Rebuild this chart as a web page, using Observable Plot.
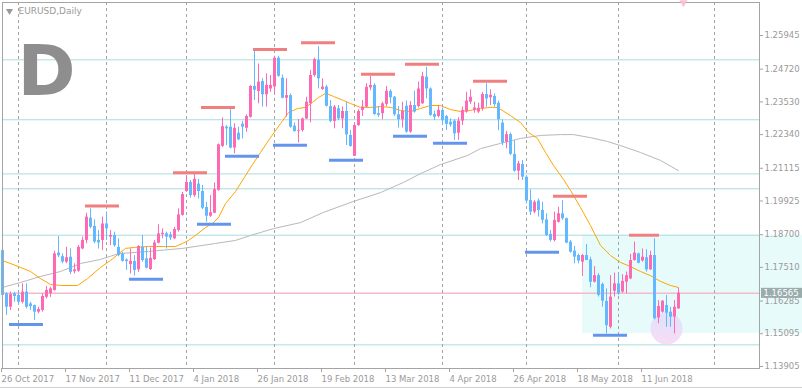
<!DOCTYPE html>
<html>
<head>
<meta charset="utf-8">
<script src="https://cdn.jsdelivr.net/npm/d3@7"></script>
<script src="https://cdn.jsdelivr.net/npm/@observablehq/plot@0.6"></script>
<style>
  html, body { margin: 0; padding: 0; background: #fff; }
  #chart { width: 802px; height: 388px; overflow: hidden; }
</style>
</head>
<body>
<div id="chart"></div>
<script>
// ---- Data (EURUSD daily) ----
const symbolTitle = "EURUSD,Daily";
const periodLetter = "D";

const open = [
1.1812,1.1655,1.1606,1.1655,1.1649,1.1624,1.1661,1.1618,1.1612,1.1588,
1.1594,1.1642,1.1655,1.1667,1.1803,1.1790,1.1770,1.1788,1.1735,1.1737,
1.1818,1.1849,1.1930,1.1900,1.1849,1.1849,1.1909,1.1861,1.1867,1.1824,
1.1800,1.1778,1.1761,1.1772,1.1742,1.1824,1.1782,1.1743,1.1779,1.1839,
1.1870,1.1873,1.1869,1.1855,1.1885,1.1940,1.2027,1.2060,1.2012,1.2054,
1.2027,1.1969,1.1937,1.1948,1.2031,1.2191,1.2261,1.2261,1.2185,1.2239,
1.2272,1.2257,1.2297,1.2409,1.2391,1.2427,1.2379,1.2400,1.2407,1.2512,
1.2439,1.2366,1.2376,1.2265,1.2246,1.2249,1.2291,1.2346,1.2449,1.2504,
1.2398,1.2407,1.2336,1.2282,1.2328,1.2291,1.2318,1.2231,1.2155,1.2267,
1.2322,1.2334,1.2404,1.2413,1.2310,1.2310,1.2344,1.2391,1.2370,1.2306,
1.2288,1.2337,1.2243,1.2340,1.2336,1.2346,1.2443,1.2400,1.2307,1.2300,
1.2322,1.2300,1.2279,1.2283,1.2239,1.2283,1.2316,1.2352,1.2322,1.2316,
1.2328,1.2380,1.2368,1.2373,1.2348,1.2276,1.2206,1.2234,1.2162,1.2101,
1.2125,1.2079,1.1994,1.1952,1.1992,1.1958,1.1924,1.1871,1.1849,1.1915,
1.1946,1.1928,1.1843,1.1810,1.1794,1.1770,1.1794,1.1778,1.1697,1.1721,
1.1689,1.1627,1.1533,1.1664,1.1691,1.1661,1.1697,1.1709,1.1776,1.1800,
1.1774,1.1786,1.1742,1.1794,1.1567,1.1588,1.1612,1.1588,1.1570,1.1600];

const high = [
1.1843,1.1659,1.1661,1.1661,1.1661,1.1691,1.1691,1.1624,1.1614,1.1606,
1.1655,1.1681,1.1679,1.1810,1.1863,1.1800,1.1824,1.1818,1.1764,1.1830,
1.1861,1.1948,1.1964,1.1924,1.1885,1.1934,1.1952,1.1885,1.1879,1.1855,
1.1806,1.1782,1.1818,1.1794,1.1830,1.1867,1.1824,1.1821,1.1849,1.1906,
1.1891,1.1879,1.1879,1.1897,1.1964,1.2024,1.2085,1.2067,1.2091,1.2071,
1.2049,1.1988,1.2012,1.2058,1.2200,1.2295,1.2267,1.2325,1.2273,1.2261,
1.2282,1.2306,1.2413,1.2536,1.2491,1.2437,1.2455,1.2449,1.2519,1.2519,
1.2451,1.2437,1.2382,1.2277,1.2289,1.2294,1.2370,1.2467,1.2512,1.2554,
1.2437,1.2413,1.2358,1.2340,1.2340,1.2334,1.2352,1.2249,1.2273,1.2324,
1.2358,1.2419,1.2446,1.2419,1.2336,1.2352,1.2409,1.2397,1.2373,1.2336,
1.2352,1.2356,1.2354,1.2392,1.2425,1.2461,1.2479,1.2404,1.2319,1.2340,
1.2331,1.2304,1.2291,1.2288,1.2295,1.2334,1.2388,1.2397,1.2352,1.2348,
1.2388,1.2419,1.2397,1.2382,1.2356,1.2288,1.2246,1.2240,1.2212,1.2137,
1.2140,1.2085,1.2033,1.1994,1.2000,1.1988,1.1946,1.1885,1.1952,1.1970,
1.1994,1.1931,1.1849,1.1827,1.1800,1.1798,1.1834,1.1788,1.1754,1.1728,
1.1694,1.1673,1.1721,1.1730,1.1730,1.1725,1.1734,1.1798,1.1843,1.1803,
1.1818,1.1815,1.1810,1.1855,1.1630,1.1630,1.1649,1.1606,1.1630,1.1675];

const low = [
1.1645,1.1576,1.1594,1.1624,1.1618,1.1618,1.1600,1.1594,1.1558,1.1582,
1.1588,1.1636,1.1642,1.1664,1.1786,1.1764,1.1764,1.1725,1.1727,1.1733,
1.1815,1.1837,1.1891,1.1837,1.1818,1.1812,1.1849,1.1830,1.1824,1.1790,
1.1770,1.1740,1.1727,1.1719,1.1733,1.1770,1.1746,1.1740,1.1776,1.1836,
1.1855,1.1818,1.1849,1.1852,1.1879,1.1937,1.2024,1.2003,1.2006,1.2000,
1.1961,1.1915,1.1933,1.1946,1.2028,1.2187,1.2194,1.2182,1.2164,1.2212,
1.2218,1.2243,1.2294,1.2358,1.2346,1.2334,1.2334,1.2388,1.2382,1.2443,
1.2364,1.2297,1.2257,1.2243,1.2204,1.2243,1.2289,1.2277,1.2443,1.2400,
1.2395,1.2334,1.2277,1.2255,1.2285,1.2255,1.2194,1.2188,1.2154,1.2264,
1.2300,1.2331,1.2394,1.2304,1.2297,1.2288,1.2336,1.2346,1.2300,1.2258,
1.2258,1.2239,1.2239,1.2312,1.2331,1.2344,1.2364,1.2300,1.2285,1.2295,
1.2267,1.2249,1.2261,1.2213,1.2213,1.2267,1.2312,1.2344,1.2312,1.2310,
1.2319,1.2334,1.2340,1.2334,1.2249,1.2194,1.2182,1.2158,1.2097,1.2067,
1.2067,1.1982,1.1940,1.1946,1.1934,1.1909,1.1863,1.1843,1.1843,1.1912,
1.1922,1.1837,1.1803,1.1764,1.1764,1.1718,1.1776,1.1677,1.1694,1.1643,
1.1606,1.1509,1.1527,1.1643,1.1649,1.1657,1.1655,1.1706,1.1774,1.1764,
1.1770,1.1734,1.1740,1.1560,1.1546,1.1584,1.1533,1.1533,1.1509,1.1598];

const close = [
1.1649,1.1606,1.1652,1.1645,1.1624,1.1661,1.1606,1.1608,1.1588,1.1598,
1.1645,1.1667,1.1673,1.1800,1.1793,1.1770,1.1786,1.1733,1.1742,1.1824,
1.1849,1.1934,1.1897,1.1843,1.1840,1.1909,1.1891,1.1867,1.1830,1.1794,
1.1773,1.1772,1.1773,1.1740,1.1827,1.1776,1.1748,1.1784,1.1840,1.1873,
1.1875,1.1861,1.1858,1.1889,1.1942,1.2016,1.2060,1.2012,1.2071,1.2027,
1.1966,1.1937,1.1950,1.2034,1.2197,1.2263,1.2255,1.2185,1.2257,1.2215,
1.2261,1.2300,1.2409,1.2395,1.2425,1.2379,1.2413,1.2413,1.2512,1.2446,
1.2366,1.2376,1.2261,1.2245,1.2249,1.2291,1.2352,1.2449,1.2507,1.2437,
1.2407,1.2337,1.2282,1.2334,1.2291,1.2318,1.2233,1.2191,1.2267,1.2318,
1.2334,1.2406,1.2413,1.2307,1.2304,1.2346,1.2392,1.2368,1.2306,1.2288,
1.2318,1.2243,1.2340,1.2316,1.2400,1.2445,1.2400,1.2304,1.2297,1.2322,
1.2285,1.2271,1.2269,1.2237,1.2283,1.2322,1.2356,1.2370,1.2331,1.2330,
1.2380,1.2364,1.2377,1.2343,1.2288,1.2203,1.2234,1.2162,1.2101,1.2128,
1.2079,1.1992,1.1952,1.1988,1.1958,1.1922,1.1867,1.1849,1.1922,1.1946,
1.1928,1.1839,1.1806,1.1788,1.1774,1.1794,1.1776,1.1697,1.1721,1.1649,
1.1628,1.1539,1.1643,1.1691,1.1655,1.1700,1.1721,1.1776,1.1803,1.1766,
1.1788,1.1742,1.1794,1.1564,1.1609,1.1628,1.1584,1.1570,1.1606,1.1657];

// Fast moving average (orange), read at bar positions
const fastMaBar = [0,4.5,7,9.5,12,14.5,18.75,21.25,24.5,27,29,30.75,33.25,36.5,40.75,43.25,45,46.5,48.25,50.75,
52.5,54,55.75,58.25,62.5,64.5,67,69.5,71.5,73.75,75.75,77.5,79,80.75,82.75,85.25,87,89.5,92,94.5,
97,99.5,102,104.5,107,109.5,112,114.5,117,119.5,122,123.75,127,129.5,131.5,133.75,135.75,137.75,140.25,142,
144.5,147,149.5,152,154.5,157,159.5,162,164.5,167,169];
const fastMa = [1.1776,1.1751,1.1736,1.1710,1.1689,1.1685,1.1685,1.1710,1.1751,1.1776,1.1800,1.1820,1.1824,1.1827,1.1827,1.1827,1.1838,1.1849,1.1867,1.1896,
1.1911,1.1932,1.1983,1.2027,1.2125,1.2169,1.2223,1.2274,1.2314,1.2329,1.2333,1.2351,1.2369,1.2384,1.2373,1.2358,1.2347,1.2333,1.2333,1.2336,
1.2333,1.2322,1.2318,1.2329,1.2340,1.2340,1.2325,1.2318,1.2322,1.2329,1.2333,1.2333,1.2303,1.2278,1.2242,1.2220,1.2169,1.2122,1.2071,1.2031,
1.1969,1.1903,1.1831,1.1794,1.1769,1.1754,1.1736,1.1721,1.1700,1.1685,1.1678];

// Slow moving average (grey)
const slowMaBar = [0,4.5,9.5,14.5,19.5,24.5,29,36.5,45,53.25,58.25,62,67.75,74.5,80.25,87.75,94.5,100.25,104.5,109.5,
116.25,119.5,124.5,129.5,134.5,139.5,142.75,147,151.25,154.5,159.5,164.5,169];
const slowMa = [1.1678,1.1696,1.1718,1.1736,1.1765,1.1780,1.1801,1.1809,1.1820,1.1838,1.1849,1.1867,1.1892,1.1914,1.1951,1.1991,1.2023,1.2060,1.2092,1.2125,
1.2158,1.2183,1.2202,1.2220,1.2231,1.2234,1.2234,1.2223,1.2209,1.2194,1.2169,1.2140,1.2103];

// Swing-high (red) and swing-low (blue) level segments
const resStart = [20.75,42.75,49.75,62.75,74.75,89.75,100.75,117.75,137.75,156.75];
const resEnd   = [29.25,51.25,58.25,71.25,83.25,98.25,109.25,126.25,146.25,164.25];
const resPrice = [1.1974,1.2095,1.2333,1.2544,1.2568,1.2454,1.2490,1.2428,1.2010,1.1868];
const supStart = [1.75,31.75,48.75,55.75,67.75,81.75,97.75,107.75,130.75,147.75];
const supEnd   = [10.25,40.25,57.25,64.25,76.25,90.25,106.25,116.25,139.25,156.25];
const supPrice = [1.1543,1.1708,1.1908,1.2155,1.2195,1.2141,1.2228,1.2203,1.1806,1.1504];

// Horizontal levels, current price, zone and highlight
const levelPrices = [1.2506,1.2288,1.2091,1.2037,1.1868,1.1469];
const currentPrice = 1.16565;
const zoneStart = 145, zoneEnd = 200, zoneTop = 1.1868, zoneBottom = 1.1510;
const markBar = 166, markPrice = 1.1529;
const arrowBar = 170.25;
const priceTagStart = 189.75;

// Axes
const yTicks = [1.25945,1.24720,1.23530,1.22340,1.21115,1.19925,1.18700,1.17510,1.16285,1.15095,1.13905];
const xTickBars = [0,16,32,48,64,80,96,112,128,144,160];
const xTickLabels = ["26 Oct 2017","17 Nov 2017","11 Dec 2017","4 Jan 2018","26 Jan 2018","19 Feb 2018",
  "13 Mar 2018","4 Apr 2018","26 Apr 2018","18 May 2018","11 Jun 2018"];
const separatorBars = [4,26,46,68,88,110,131,154,178];

// ---- Build tables ----
const bars = open.map((o, i) => ({i, o, h: high[i], l: low[i], c: close[i]}));
const fastLine = fastMaBar.map((b, k) => ({b, v: fastMa[k]}));
const slowLine = slowMaBar.map((b, k) => ({b, v: slowMa[k]}));
const res = resPrice.map((p, k) => ({a: resStart[k], b: resEnd[k], p}));
const sup = supPrice.map((p, k) => ({a: supStart[k], b: supEnd[k], p}));
const labelOf = new Map(xTickBars.map((b, k) => [b, xTickLabels[k]]));

const bullColor = "#ff69b4", bearColor = "#63b8ff";
const colorOf = d => d.c >= d.o ? bullColor : bearColor;

const plot = Plot.plot({
  width: 802, height: 388,
  marginLeft: 2, marginRight: 43, marginTop: 2, marginBottom: 20,
  style: {fontFamily: "DejaVu Sans", fontSize: "8.5px", background: "#fff", color: "#9a9a9a", overflow: "visible"},
  x: {domain: [0, 189.25], axis: null},
  y: {domain: [1.13831, 1.27146], axis: null},
  marks: [
    Plot.rect([0], {x1: () => zoneStart, x2: () => zoneEnd, y1: () => zoneBottom, y2: () => zoneTop, fill: "#e7fbfb"}),
    Plot.ruleY(levelPrices, {stroke: "#a9dcdc", strokeWidth: 1}),
    Plot.ruleY([currentPrice], {stroke: "#f6b9c8", strokeWidth: 1.5}),
    Plot.ruleX(separatorBars, {stroke: "#a4a4a4", strokeDasharray: "3,3"}),
    Plot.dot([0], {x: () => markBar, y: () => markPrice, r: 16, fill: "url(#lav)", stroke: "none"}),
    Plot.line(slowLine, {x: "b", y: "v", stroke: "#b8b8b8", strokeWidth: 1}),
    Plot.line(fastLine, {x: "b", y: "v", stroke: "#ffa500", strokeWidth: 1}),
    Plot.ruleX(bars, {x: "i", y1: "l", y2: "h", stroke: colorOf, strokeWidth: 1}),
    Plot.ruleX(bars, {x: "i", y1: "o", y2: "c", stroke: colorOf, strokeWidth: 3}),
    Plot.ruleY(res, {x1: "a", x2: "b", y: "p", stroke: "#f08080", strokeWidth: 3}),
    Plot.ruleY(sup, {x1: "a", x2: "b", y: "p", stroke: "#6495ed", strokeWidth: 3}),
    Plot.frame({stroke: "#a4a4a4"}),
    Plot.axisY(yTicks, {anchor: "right", tickSize: 3, tickPadding: 2, tickFormat: d => d.toFixed(5), stroke: "#a4a4a4", fill: "#9a9a9a"}),
    Plot.axisX(xTickBars, {anchor: "bottom", tickSize: 4, tickPadding: 3, textAnchor: "start", dx: -1,
      tickFormat: d => labelOf.get(d), stroke: "#a4a4a4", fill: "#9a9a9a"}),
    // current price tag
    Plot.rect([currentPrice], {x1: () => priceTagStart, x2: () => zoneEnd, y1: d => d, y2: d => d,
      insetTop: -5, insetBottom: -5, fill: "#9aacac"}),
    Plot.text([currentPrice], {x: () => priceTagStart, y: d => d, dx: 2, textAnchor: "start",
      text: d => d.toFixed(5), fill: "#ffffff"}),
    Plot.text([symbolTitle], {frameAnchor: "top-left", dx: 16, dy: 9, textAnchor: "start", lineAnchor: "middle",
      fill: "#9a9a9a", fontSize: 9}),
    Plot.dot([0], {frameAnchor: "top-left", dx: 7, dy: 8.5, symbol: "triangle", rotate: 180, r: 2.6, fill: "#9a9a9a", stroke: "none"}),
    Plot.text([periodLetter], {frameAnchor: "top-left", dx: 15, dy: 92, textAnchor: "start", lineAnchor: "bottom",
      fill: "#8e8e8e", fontSize: 70, fontWeight: "bold"}),
    Plot.dot([0], {x: () => arrowBar, frameAnchor: "top", dy: 0, symbol: "triangle", rotate: 180, r: 3, fill: "#f7c2cf", stroke: "none"})
  ]
});

document.getElementById("chart").appendChild(plot);

// gradient for highlight circle, window edge
const svg = d3.select(plot);
svg.insert("defs", ":first-child").html(
  '<linearGradient id="lav" x1="0" y1="0" x2="0" y2="1">' +
  '<stop offset="0" stop-color="#dde3fb"/><stop offset="1" stop-color="#f8dcf6"/></linearGradient>');
svg.append("line").attr("x1", 0).attr("x2", 802).attr("y1", 387.5).attr("y2", 387.5).style("stroke", "#d2d2d2");
</script>
</body>
</html>
